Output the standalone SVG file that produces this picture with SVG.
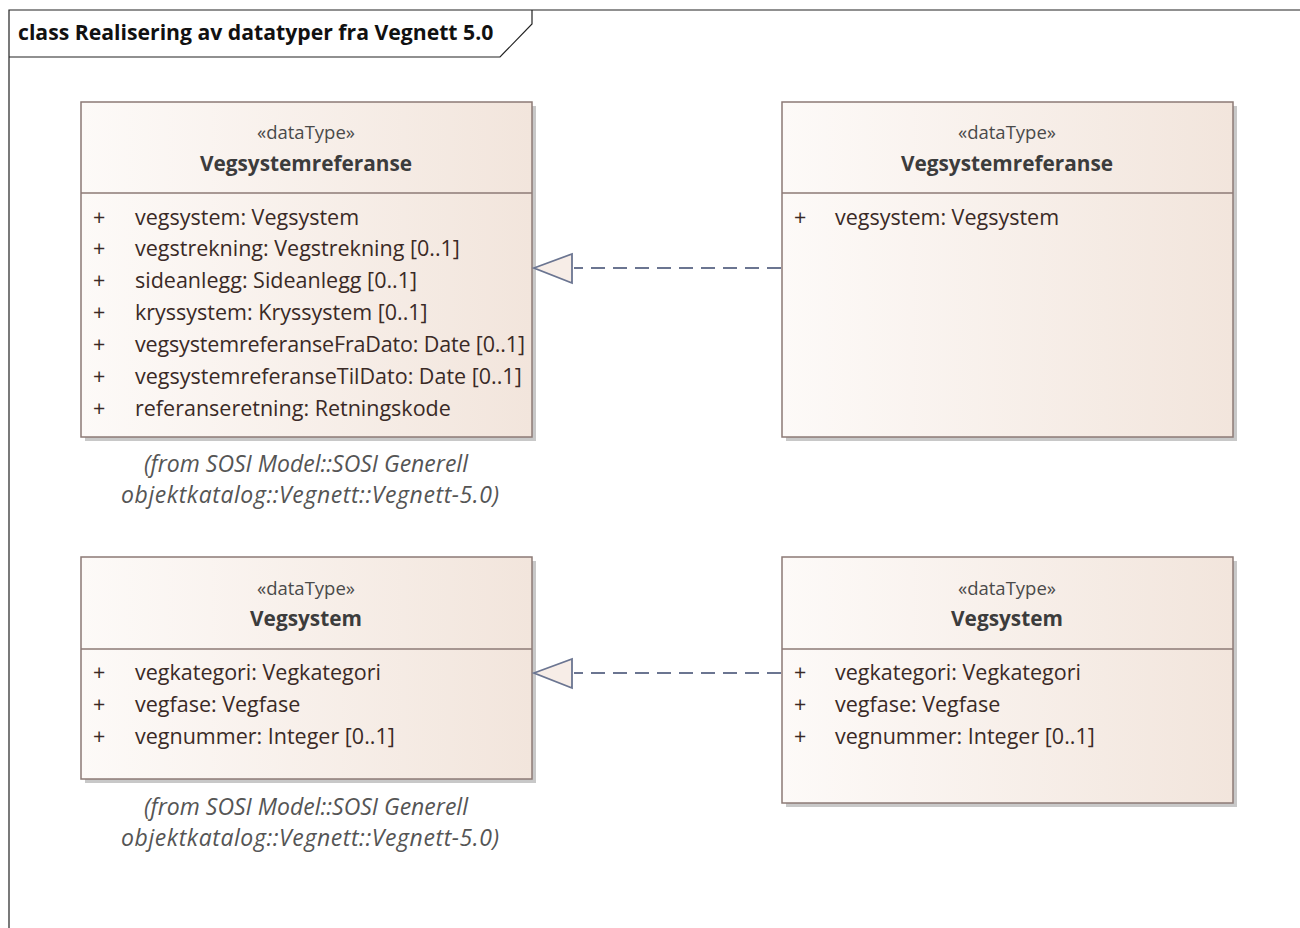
<svg xmlns="http://www.w3.org/2000/svg" width="1300" height="928" viewBox="0 0 1300 928">
<defs>
<linearGradient id="g" x1="0" y1="0" x2="1" y2="0">
<stop offset="0" stop-color="#fdfaf8"/>
<stop offset="1" stop-color="#f2e5dc"/>
</linearGradient>
<style>
.box{fill:url(#g);stroke:#8c7a76;stroke-width:1.5}
.sh{fill:#c8c8c8}
.div{stroke:#8c7a76;stroke-width:1.5}
text{font-family:"Open Sans","Liberation Sans",sans-serif;fill:#3a3a3a}
.st{font-size:18.5px;text-anchor:middle;fill:#4a4a4a}
.nm{font-size:20.8px;font-weight:bold;text-anchor:middle;fill:#3c3c3c}
.at{font-size:21.5px;fill:#3a2a26}
.note{font-size:23px;font-style:italic;text-anchor:middle;fill:#555}
.title{font-size:21.2px;font-weight:bold;fill:#111}
.conn{stroke:#6b7591;stroke-width:1.8;fill:none}
.dash{stroke-dasharray:14 8}
.tri{fill:#f7ede7;stroke:#6b7591;stroke-width:1.8}
</style>
</defs>
<rect width="1300" height="928" fill="#fff"/>
<g id="frame">
<path d="M9,928 V10 H1300" fill="none" stroke="#222" stroke-width="1.2"/>
<path d="M9,57 H500 L532,24 V10" fill="none" stroke="#222" stroke-width="1.2"/>
<text class="title" x="18" y="40">class Realisering av datatyper fra Vegnett 5.0</text>
</g>
<g id="node-vegsystemreferanse-left">
<rect class="sh" x="85" y="106" width="451" height="335"/>
<rect class="box" x="81" y="102" width="451" height="335"/>
<line class="div" x1="81" y1="193" x2="532" y2="193"/>
<text class="st" x="306" y="139">«dataType»</text>
<text class="nm" x="306" y="171">Vegsystemreferanse</text>
<text class="at" x="93" y="225">+</text><text class="at" x="135" y="225">vegsystem: Vegsystem</text>
<text class="at" x="93" y="256">+</text><text class="at" x="135" y="256">vegstrekning: Vegstrekning [0..1]</text>
<text class="at" x="93" y="288">+</text><text class="at" x="135" y="288">sideanlegg: Sideanlegg [0..1]</text>
<text class="at" x="93" y="320">+</text><text class="at" x="135" y="320">kryssystem: Kryssystem [0..1]</text>
<text class="at" x="93" y="352">+</text><text class="at" x="135" y="352" textLength="390">vegsystemreferanseFraDato: Date [0..1]</text>
<text class="at" x="93" y="384">+</text><text class="at" x="135" y="384">vegsystemreferanseTilDato: Date [0..1]</text>
<text class="at" x="93" y="416">+</text><text class="at" x="135" y="416">referanseretning: Retningskode</text>
<text class="note" x="306" y="472">(from SOSI Model::SOSI Generell</text>
<text class="note" x="310" y="503" textLength="378">objektkatalog::Vegnett::Vegnett-5.0)</text>
</g>
<g id="node-vegsystemreferanse-right">
<rect class="sh" x="786" y="106" width="451" height="335"/>
<rect class="box" x="782" y="102" width="451" height="335"/>
<line class="div" x1="782" y1="193" x2="1233" y2="193"/>
<text class="st" x="1007" y="139">«dataType»</text>
<text class="nm" x="1007" y="171">Vegsystemreferanse</text>
<text class="at" x="794" y="225">+</text><text class="at" x="835" y="225">vegsystem: Vegsystem</text>
</g>
<g id="node-vegsystem-left">
<rect class="sh" x="85" y="561" width="451" height="222"/>
<rect class="box" x="81" y="557" width="451" height="222"/>
<line class="div" x1="81" y1="649" x2="532" y2="649"/>
<text class="st" x="306" y="595">«dataType»</text>
<text class="nm" x="306" y="626">Vegsystem</text>
<text class="at" x="93" y="680">+</text><text class="at" x="135" y="680">vegkategori: Vegkategori</text>
<text class="at" x="93" y="712">+</text><text class="at" x="135" y="712">vegfase: Vegfase</text>
<text class="at" x="93" y="744">+</text><text class="at" x="135" y="744">vegnummer: Integer [0..1]</text>
<text class="note" x="306" y="815">(from SOSI Model::SOSI Generell</text>
<text class="note" x="310" y="846" textLength="378">objektkatalog::Vegnett::Vegnett-5.0)</text>
</g>
<g id="node-vegsystem-right">
<rect class="sh" x="786" y="561" width="451" height="246"/>
<rect class="box" x="782" y="557" width="451" height="246"/>
<line class="div" x1="782" y1="649" x2="1233" y2="649"/>
<text class="st" x="1007" y="595">«dataType»</text>
<text class="nm" x="1007" y="626">Vegsystem</text>
<text class="at" x="794" y="680">+</text><text class="at" x="835" y="680">vegkategori: Vegkategori</text>
<text class="at" x="794" y="712">+</text><text class="at" x="835" y="712">vegfase: Vegfase</text>
<text class="at" x="794" y="744">+</text><text class="at" x="835" y="744">vegnummer: Integer [0..1]</text>
</g>
<g id="connectors">
<line class="conn dash" x1="781" y1="268" x2="574" y2="268"/>
<polygon class="tri" points="534,268 572,254 572,283"/>
<line class="conn dash" x1="781" y1="673" x2="574" y2="673"/>
<polygon class="tri" points="534,673 572,659 572,688"/>
</g>
</svg>
